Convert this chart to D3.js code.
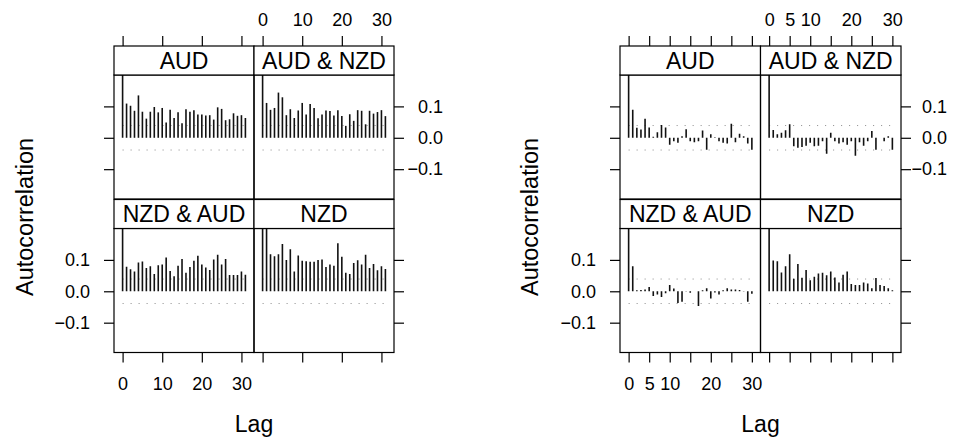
<!DOCTYPE html>
<html>
<head>
<meta charset="utf-8">
<script src="https://cdn.jsdelivr.net/npm/d3@7"></script>
<style>
  body { margin: 0; background: #fff; }
  svg { display: block; font-family: "Liberation Sans", Arial, sans-serif; }
</style>
</head>
<body>
<svg width="962" height="439"></svg>
<script>
// panel order: top-left, top-right, bottom-left, bottom-right
const panelNames = ["AUD", "AUD & NZD", "NZD & AUD", "NZD"];
const ciBound = 0.039;

// left figure, lags 0..31
const leftAUD = [1.0, 0.109, 0.102, 0.086, 0.135, 0.083, 0.061, 0.083, 0.098, 0.081, 0.095, 0.049, 0.089, 0.063, 0.081, 0.046, 0.091, 0.083, 0.088, 0.074, 0.074, 0.071, 0.072, 0.058, 0.097, 0.092, 0.056, 0.059, 0.078, 0.070, 0.072, 0.063];
const leftAUDNZD = [0.6, 0.111, 0.089, 0.095, 0.144, 0.129, 0.072, 0.091, 0.063, 0.087, 0.111, 0.074, 0.108, 0.095, 0.062, 0.074, 0.087, 0.085, 0.071, 0.088, 0.069, 0.038, 0.075, 0.054, 0.088, 0.086, 0.043, 0.086, 0.077, 0.082, 0.088, 0.069];
const leftNZDAUD = [0.6, 0.0785, 0.070, 0.063, 0.092, 0.095, 0.074, 0.080, 0.055, 0.083, 0.085, 0.108, 0.065, 0.048, 0.081, 0.103, 0.059, 0.077, 0.097, 0.113, 0.085, 0.076, 0.068, 0.101, 0.116, 0.085, 0.103, 0.052, 0.052, 0.052, 0.063, 0.053];
const leftNZD = [1.0, 0.25, 0.118, 0.112, 0.118, 0.151, 0.100, 0.134, 0.063, 0.114, 0.097, 0.096, 0.094, 0.094, 0.100, 0.101, 0.077, 0.085, 0.081, 0.153, 0.110, 0.059, 0.055, 0.090, 0.099, 0.085, 0.116, 0.074, 0.087, 0.067, 0.080, 0.071];

// right figure, lags 0..30
const rightAUD = [1.0, 0.089, 0.032, 0.026, 0.061, 0.033, 0.003, 0.018, 0.041, 0.033, -0.022, -0.011, -0.016, 0.005, 0.027, -0.011, -0.014, -0.011, 0.023, -0.038, 0.011, 0.002, -0.011, -0.016, -0.018, 0.045, -0.014, 0.013, 0.005, -0.018, -0.038];
const rightAUDNZD = [0.6, 0.025, 0.011, 0.016, 0.024, 0.043, -0.027, -0.032, -0.029, -0.025, -0.016, -0.027, -0.025, -0.011, -0.051, 0.016, -0.011, -0.018, -0.014, -0.022, -0.011, -0.057, -0.014, -0.025, -0.011, 0.022, -0.038, 0.000, -0.011, 0.005, -0.038];
const rightNZDAUD = [0.6, 0.080, 0.003, 0.004, 0.006, 0.014, -0.015, -0.010, -0.018, -0.006, 0.020, 0.009, -0.037, -0.033, 0.001, -0.005, 0.000, -0.047, 0.003, 0.010, -0.023, -0.004, -0.010, 0.003, 0.010, 0.006, 0.006, 0.004, 0.001, -0.033, -0.008];
const rightNZD = [1.0, 0.098, 0.096, 0.060, 0.080, 0.118, 0.040, 0.087, 0.043, 0.068, 0.035, 0.046, 0.057, 0.059, 0.051, 0.063, 0.044, 0.028, 0.053, 0.063, 0.023, 0.020, 0.020, 0.028, 0.025, 0.010, 0.042, 0.020, 0.017, 0.010, 0.003];

const leftLagTicks = [0, 10, 20, 30];
const leftLagLabels = ["0", "10", "20", "30"];
const rightLagTicks = [0, 5, 10, 15, 20, 25, 30];
const rightLagLabels = ["0", "5", "10", "", "20", "", "30"];
const acfTicks = [-0.1, 0.0, 0.1];
const acfLabels = ["\u22120.1", "0.0", "0.1"];

const svg = d3.select("svg");

const stripH = 29, bodyH = 124, top0 = 46;
const rowTop = [top0, top0 + stripH + bodyH + 0.5];

const figures = [
  { x0: 114, colW: 140, maxLag: 31, series: [leftAUD, leftAUDNZD, leftNZDAUD, leftNZD],
    ticks: leftLagTicks, labels: leftLagLabels, labR: 49, ylabX: 33 },
  { x0: 620, colW: 140.5, maxLag: 30, series: [rightAUD, rightAUDNZD, rightNZDAUD, rightNZD],
    ticks: rightLagTicks, labels: rightLagLabels, labR: 46, ylabX: 538 }
];

// common tick styling
function styleAxis(a) {
  a.select(".domain").remove();
  a.selectAll("line").attr("stroke", "#000").attr("stroke-width", 1.2);
  a.selectAll("text").attr("font-size", 18).attr("fill", "#000").attr("font-family", null);
  return a;
}

figures.forEach((fig, fi) => {
  const g = svg.append("g");
  const pad = fig.maxLag * 0.07;

  fig.series.forEach((vals, pi) => {
    const col = pi % 2, row = Math.floor(pi / 2);
    const px = fig.x0 + col * fig.colW;
    const sy = rowTop[row];
    const by = sy + stripH;

    const x = d3.scaleLinear().domain([-pad, fig.maxLag + pad]).range([px, px + fig.colW]);
    const y = d3.scaleLinear().domain([-0.195, 0.2]).range([by + bodyH, by]);

    const clipId = `clip-${fi}-${pi}`;
    g.append("clipPath").attr("id", clipId)
      .append("rect").attr("x", px).attr("y", by).attr("width", fig.colW).attr("height", bodyH);

    const body = g.append("g").attr("clip-path", `url(#${clipId})`);

    // confidence bounds
    [ciBound, -ciBound].forEach(c => {
      body.append("line")
        .attr("x1", x(0)).attr("x2", x(fig.maxLag) + 2)
        .attr("y1", y(c)).attr("y2", y(c))
        .attr("stroke", "#8a8a8a").attr("stroke-width", 1)
        .attr("stroke-dasharray", "1 7");
    });

    body.selectAll("line.bar")
      .data(vals)
      .join("line")
      .attr("class", "bar")
      .attr("x1", (d, i) => x(i)).attr("x2", (d, i) => x(i))
      .attr("y1", y(0)).attr("y2", d => y(d))
      .attr("stroke", "#111").attr("stroke-width", 1.6);

    // panel border
    g.append("rect").attr("x", px).attr("y", by).attr("width", fig.colW).attr("height", bodyH)
      .attr("fill", "none").attr("stroke", "#000").attr("stroke-width", 1.2);

    // strip
    g.append("rect").attr("x", px).attr("y", sy).attr("width", fig.colW).attr("height", stripH)
      .attr("fill", "#fff").attr("stroke", "#000").attr("stroke-width", 1.2);
    g.append("text").attr("x", px + fig.colW / 2).attr("y", sy + 22.5)
      .attr("text-anchor", "middle").attr("font-size", 23)
      .text(panelNames[pi]);

    // x ticks: top row -> top axis, bottom row -> bottom axis
    if (row === 0) {
      const ax = d3.axisTop(x).tickValues(fig.ticks).tickSize(10).tickPadding(10)
        .tickFormat((d, i) => col === 1 ? fig.labels[i] : "");
      styleAxis(g.append("g").attr("transform", `translate(0,${sy})`).call(ax));
    } else {
      const ax = d3.axisBottom(x).tickValues(fig.ticks).tickSize(10).tickPadding(15)
        .tickFormat((d, i) => col === 0 ? fig.labels[i] : "");
      styleAxis(g.append("g").attr("transform", `translate(0,${by + bodyH})`).call(ax));
    }

    // y ticks: left on col 0, right on col 1; labels right for top row, left for bottom row
    if (col === 0) {
      const ax = d3.axisLeft(y).tickValues(acfTicks).tickSize(10).tickPadding(14)
        .tickFormat((d, i) => row === 1 ? acfLabels[i] : "");
      styleAxis(g.append("g").attr("transform", `translate(${px},0)`).call(ax));
    } else {
      const ax = d3.axisRight(y).tickValues(acfTicks).tickSize(10)
        .tickFormat((d, i) => row === 0 ? acfLabels[i] : "");
      styleAxis(g.append("g").attr("transform", `translate(${px + fig.colW},0)`).call(ax))
        .selectAll("text").attr("text-anchor", "end").attr("x", fig.labR);
    }
  });

  // axis titles
  const midX = fig.x0 + fig.colW;
  g.append("text").attr("x", midX).attr("y", 432)
    .attr("text-anchor", "middle").attr("font-size", 23).text("Lag");
  g.append("text")
    .attr("transform", `translate(${fig.ylabX},217) rotate(-90)`)
    .attr("text-anchor", "middle").attr("font-size", 23.5).text("Autocorrelation");
});
</script>
</body>
</html>
